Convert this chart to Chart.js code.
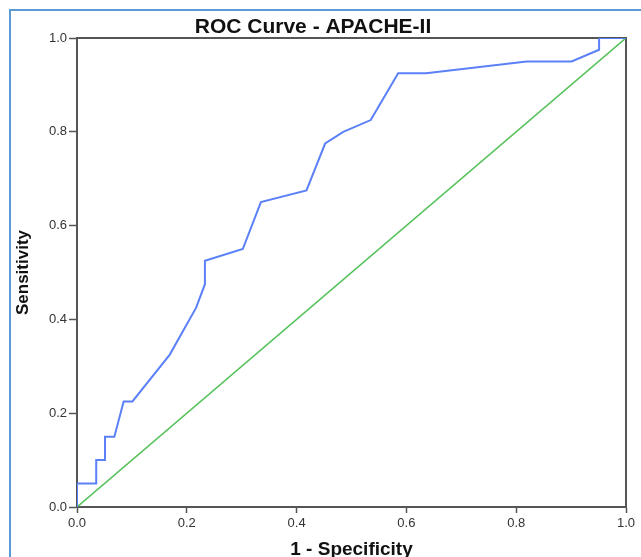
<!DOCTYPE html>
<html>
<head>
<meta charset="utf-8">
<script src="https://cdn.jsdelivr.net/npm/chart.js@4.4.1/dist/chart.umd.min.js"></script>
<style>
  body { margin: 0; background: #fff; }
  #wrap { position: relative; width: 641px; height: 557px; overflow: hidden; }
  #frame { position: absolute; left: 9px; top: 9px; width: 700px; height: 600px;
           border-left: 2px solid #5b9bd5; border-top: 2px solid #5b9bd5; pointer-events: none; }
  canvas { position: absolute; left: 0; top: 0; }
</style>
</head>
<body>
<div id="wrap">
  <canvas id="roc" width="641" height="557"></canvas>
  <div id="frame"></div>
</div>
<script>
// 1 - specificity / sensitivity
const fpr  = [0, 0, 0.035, 0.035, 0.051, 0.051, 0.068, 0.085, 0.101, 0.169, 0.217, 0.233, 0.233, 0.302, 0.335, 0.418, 0.452, 0.485, 0.535, 0.585, 0.636, 0.819, 0.901, 0.951, 0.951, 1];
const sens = [0, 0.05, 0.05, 0.10, 0.10, 0.15, 0.15, 0.225, 0.225, 0.325, 0.425, 0.475, 0.525, 0.55, 0.65, 0.675, 0.775, 0.80, 0.825, 0.925, 0.925, 0.95, 0.95, 0.975, 1, 1];
const refX = [0, 1];
const refY = [0, 1];
const tickValues = [0, 0.2, 0.4, 0.6, 0.8, 1.0];

const curve = fpr.map((x, i) => ({ x: x, y: sens[i] }));
const diag = refX.map((x, i) => ({ x: x, y: refY[i] }));

// box around the plot (top + right sides too)
const plotBox = {
  id: "plotBox",
  beforeDatasetsDraw(chart) {
    const a = chart.chartArea;
    const ctx = chart.ctx;
    ctx.save();
    ctx.strokeStyle = "#555";
    ctx.lineWidth = 2;
    ctx.strokeRect(a.left, a.top, a.right - a.left, a.bottom - a.top);
    ctx.restore();
  }
};

const axisGrid = len => ({
  display: true,
  drawOnChartArea: false,
  drawTicks: true,
  tickLength: len,
  tickColor: "#555",
  tickWidth: 1.5
});

new Chart(document.getElementById("roc").getContext("2d"), {
  type: "scatter",
  data: {
    datasets: [
      { data: curve, showLine: true, borderColor: "#5b80f8", borderWidth: 2, pointRadius: 0, tension: 0 },
      { data: diag, showLine: true, borderColor: "#55c25a", borderWidth: 1.6, pointRadius: 0 }
    ]
  },
  options: {
    responsive: false,
    animation: false,
    layout: { padding: { left: 0, right: 15, top: 0, bottom: 0 } },
    plugins: {
      legend: { display: false },
      tooltip: { enabled: false },
      title: {
        display: true,
        text: "ROC Curve - APACHE-II",
        color: "#111",
        font: { family: "Liberation Sans, Arial", size: 21, weight: "bold", lineHeight: 1 },
        padding: { top: 16.5, bottom: 0.5 }
      }
    },
    scales: {
      x: {
        type: "linear",
        min: 0, max: 1,
        afterBuildTicks: s => { s.ticks = tickValues.map(v => ({ value: v })); },
        afterFit: s => { s.height = 50; },
        ticks: {
          callback: v => v.toFixed(1),
          color: "#333",
          padding: 3,
          maxRotation: 0,
          font: { family: "Liberation Sans, Arial", size: 13 }
        },
        grid: axisGrid(6),
        border: { display: true, color: "#555", width: 2 },
        title: {
          display: true,
          text: "1 - Specificity",
          color: "#111",
          font: { family: "Liberation Sans, Arial", size: 19, weight: "bold", lineHeight: 0.8 },
          padding: { top: 0, bottom: 0 }
        }
      },
      y: {
        type: "linear",
        min: 0, max: 1,
        afterBuildTicks: s => { s.ticks = tickValues.map(v => ({ value: v })); },
        afterFit: s => { s.width = 77; },
        ticks: {
          callback: v => v.toFixed(1),
          color: "#333",
          padding: 2,
          font: { family: "Liberation Sans, Arial", size: 13 }
        },
        grid: axisGrid(8),
        border: { display: true, color: "#555", width: 2 },
        title: {
          display: true,
          text: "Sensitivity",
          color: "#111",
          font: { family: "Liberation Sans, Arial", size: 17, weight: "bold", lineHeight: 1.2 },
          padding: { top: 13, bottom: 0 }
        }
      }
    }
  },
  plugins: [plotBox]
});
</script>
</body>
</html>
